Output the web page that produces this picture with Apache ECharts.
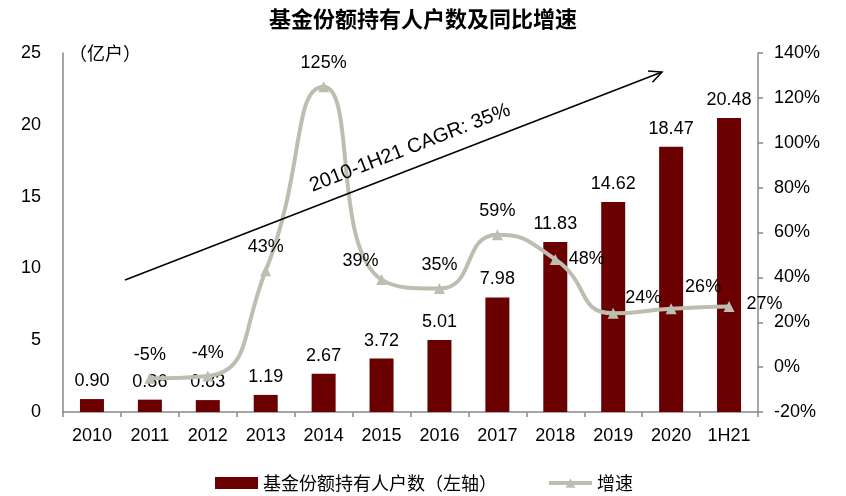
<!DOCTYPE html>
<html>
<head>
<meta charset="utf-8">
<script src="https://cdn.jsdelivr.net/npm/echarts@6/dist/echarts.min.js"></script>
<style>
  html, body { margin: 0; padding: 0; background: #fff; }
  #main-chart { width: 846px; height: 496px; }
</style>
</head>
<body>
<div id="main-chart"></div>
<script>
// 数据
const years = ['2010', '2011', '2012', '2013', '2014', '2015', '2016', '2017', '2018', '2019', '2020', '1H21'];
const holders = [0.90, 0.86, 0.83, 1.19, 2.67, 3.72, 5.01, 7.98, 11.83, 14.62, 18.47, 20.48];
const growth = [null, -5, -4, 43, 125, 39, 35, 59, 48, 24, 26, 27];
const leftTicks = { min: 0, max: 25, interval: 5 };
const rightTicks = { min: -20, max: 140, interval: 20 };

const barColor = '#6B0000';
const lineColor = '#BEBEB0';
const txt = '#000';
const latin = 'Liberation Sans, Arial, sans-serif';
const cjk = '"Noto Sans CJK SC", sans-serif';

// label tweaks so the % labels sit where the original has them
const growthLabelTweak = {
  5: { offset: [-21, 5] },
  8: { position: 'right', distance: 8, offset: [0, 0] },
  9: { offset: [30, 8] },
  10: { offset: [32, 2] },
  11: { position: 'right', distance: 12, offset: [0, -3] }
};

const growthData = growth.map(function (v, i) {
  if (v === null) return null;
  const item = { value: v };
  if (growthLabelTweak[i]) item.label = growthLabelTweak[i];
  return item;
});

// arrow annotation (CAGR)
const a0 = [125, 280], a1 = [662, 72];
const ang = Math.atan2(a0[1] - a1[1], a1[0] - a0[0]);
const headLen = 14, headAng = Math.PI / 7;
const back = Math.atan2(a0[1] - a1[1], a0[0] - a1[0]);
const h1 = [a1[0] + headLen * Math.cos(back + headAng), a1[1] + headLen * Math.sin(back + headAng)];
const h2 = [a1[0] + headLen * Math.cos(back - headAng), a1[1] + headLen * Math.sin(back - headAng)];

let chartDom = document.getElementById('main-chart');
let myChart = echarts.init(chartDom);

const option = {
  backgroundColor: '#fff',
  animation: false,
  title: {
    text: '基金份额持有人户数及同比增速',
    left: 'center',
    top: 3,
    textStyle: { fontFamily: cjk, fontSize: 22, fontWeight: 'bold', color: txt }
  },
  legend: {
    left: 210,
    top: 469,
    itemWidth: 43,
    itemHeight: 12,
    itemGap: 50,
    lineStyle: { width: 4 },
    textStyle: { fontFamily: cjk, fontSize: 18, color: txt },
    data: [
      { name: '基金份额持有人户数（左轴）', icon: 'rect' },
      { name: '增速' }
    ]
  },
  grid: { left: 63, right: 88, top: 53, bottom: 84 },
  xAxis: {
    type: 'category',
    data: years,
    axisLine: { lineStyle: { color: '#888', width: 1.5 } },
    axisTick: { show: true, length: 5, lineStyle: { color: '#888', width: 1.5 } },
    axisLabel: { fontFamily: latin, fontSize: 18, color: txt, margin: 15 }
  },
  yAxis: [
    {
      type: 'value',
      min: leftTicks.min,
      max: leftTicks.max,
      interval: leftTicks.interval,
      name: '（亿户）',
      nameLocation: 'end',
      nameGap: 0,
      nameTextStyle: { fontFamily: cjk, fontSize: 18, color: txt, align: 'left', verticalAlign: 'middle', padding: [0, 0, 0, 6] },
      axisLine: { show: true, lineStyle: { color: '#888', width: 1.5 } },
      axisTick: { show: false },
      splitLine: { show: false },
      axisLabel: { fontFamily: latin, fontSize: 18, color: txt, margin: 22 }
    },
    {
      type: 'value',
      min: rightTicks.min,
      max: rightTicks.max,
      interval: rightTicks.interval,
      position: 'right',
      axisLine: { show: true, lineStyle: { color: '#888', width: 1.5 } },
      axisTick: { show: true, length: 5, lineStyle: { color: '#888', width: 1.5 } },
      splitLine: { show: false },
      axisLabel: { fontFamily: latin, fontSize: 18, color: txt, margin: 16, formatter: '{value}%' }
    }
  ],
  series: [
    {
      name: '基金份额持有人户数（左轴）',
      type: 'bar',
      yAxisIndex: 0,
      barWidth: 24,
      data: holders,
      itemStyle: { color: barColor },
      label: {
        show: true,
        position: 'top',
        distance: 9,
        fontFamily: latin,
        fontSize: 18,
        color: txt,
        formatter: function (p) { return p.value.toFixed(2); }
      }
    },
    {
      name: '增速',
      type: 'line',
      yAxisIndex: 1,
      smooth: 0.55,
      symbol: 'triangle',
      symbolSize: 11,
      data: growthData,
      lineStyle: { color: lineColor, width: 4 },
      itemStyle: { color: lineColor },
      label: {
        show: true,
        position: 'top',
        distance: 9,
        fontFamily: latin,
        fontSize: 18,
        color: txt,
        formatter: '{c}%'
      },
      z: 5
    }
  ],
  graphic: [
    {
      type: 'line',
      shape: { x1: a0[0], y1: a0[1], x2: a1[0], y2: a1[1] },
      style: { stroke: '#000', lineWidth: 1.5 },
      z: 10
    },
    {
      type: 'polyline',
      shape: { points: [h1, a1, h2] },
      style: { stroke: '#000', lineWidth: 1.5, fill: null },
      z: 10
    },
    {
      type: 'text',
      x: 410,
      y: 148,
      rotation: ang,
      style: {
        text: '2010-1H21 CAGR: 35%',
        fontFamily: latin,
        fontSize: 20,
        fill: '#000',
        align: 'center',
        verticalAlign: 'middle'
      },
      z: 10
    }
  ]
};

myChart.setOption(option);
</script>
</body>
</html>
